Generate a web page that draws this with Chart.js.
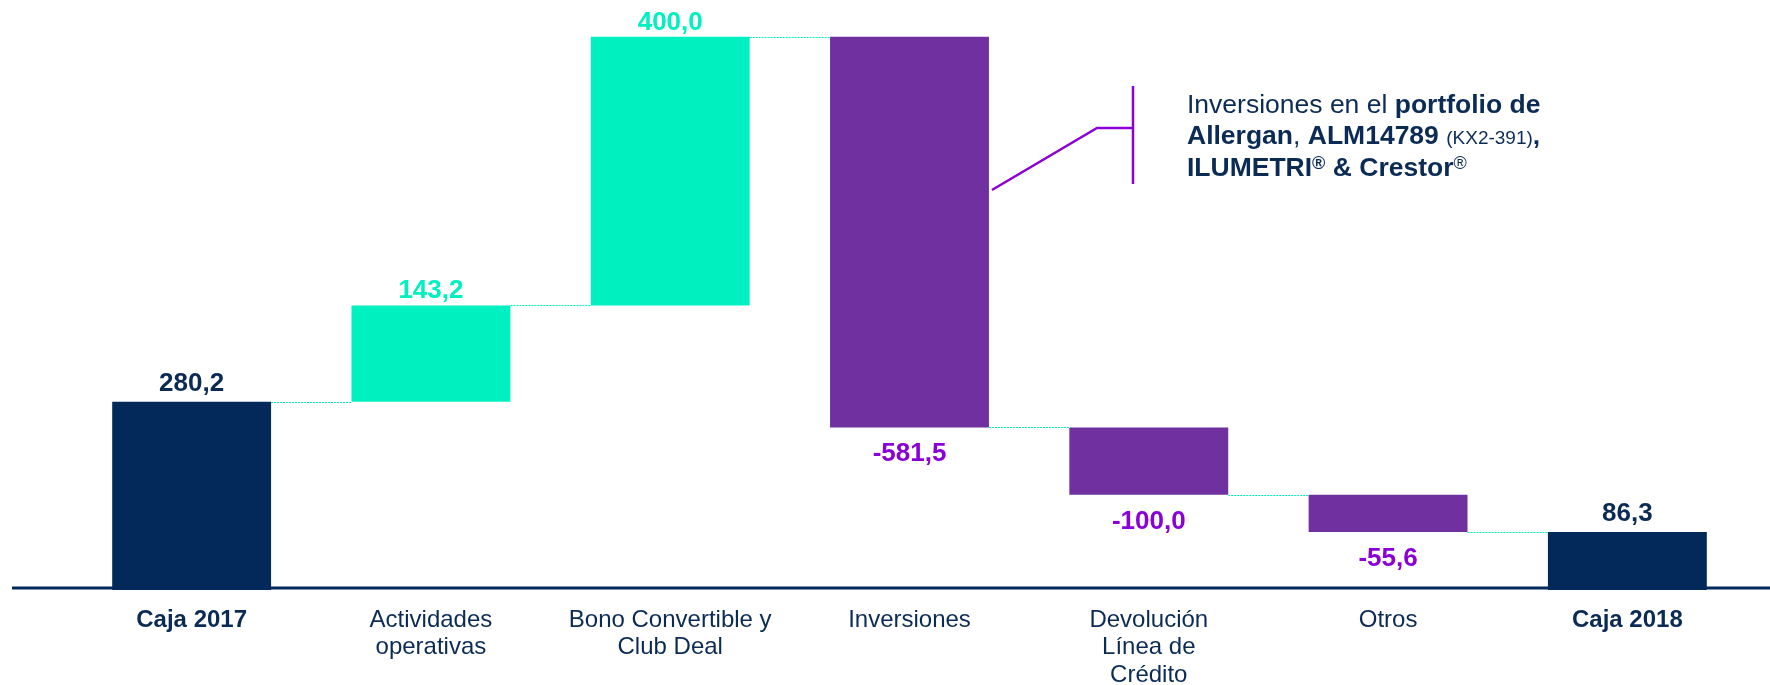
<!DOCTYPE html>
<html><head><meta charset="utf-8">
<script src="https://cdn.jsdelivr.net/npm/chart.js@4.4.0/dist/chart.umd.min.js"></script>
<style>html,body{margin:0;padding:0;background:#fff;}canvas{display:block}</style>
</head><body>
<canvas id="c" width="1770" height="685"></canvas>
<script>
const categories = ['Caja 2017', ['Actividades','operativas'], ['Bono Convertible y','Club Deal'], 'Inversiones', ['Devolución','Línea de','Crédito'], 'Otros', 'Caja 2018'];
const changes = [280.2, 143.2, 400.0, -581.5, -100.0, -55.6, 86.3];
const isTotal = [true, false, false, false, false, false, true];

const NAVY = '#02295A';
const NAVY_TEXT = '#0B2B55';
const TEAL = '#00F0C0';
const PURPLE = '#7030A0';
const VIOLET = '#8B00D6';
const FAMILY = '"Liberation Sans", Arial, sans-serif';

const ranges = [];
let run = 0;
changes.forEach((v, i) => {
  if (isTotal[i]) { ranges.push([0, v]); run = v; }
  else { ranges.push([run, run + v]); run += v; }
});
const colors = changes.map((v, i) => isTotal[i] ? NAVY : (v >= 0 ? TEAL : PURPLE));
const labelColors = changes.map((v, i) => isTotal[i] ? NAVY_TEXT : (v >= 0 ? TEAL : VIOLET));
const fmt = v => v.toFixed(1).replace('.', ',');

const baselinePlugin = {
  id: 'baseline',
  beforeDatasetsDraw(chart) {
    const ctx = chart.ctx, y = chart.scales.y.getPixelForValue(0) - 2;
    ctx.save();
    ctx.strokeStyle = NAVY; ctx.lineWidth = 3;
    ctx.beginPath(); ctx.moveTo(12, y); ctx.lineTo(chart.width, y); ctx.stroke();
    ctx.restore();
  }
};

const connectorPlugin = {
  id: 'connectors',
  afterDatasetsDraw(chart) {
    const ctx = chart.ctx, meta = chart.getDatasetMeta(0), ys = chart.scales.y;
    ctx.save();
    ctx.strokeStyle = TEAL; ctx.lineWidth = 1; ctx.setLineDash([2, 1]);
    for (let i = 0; i < meta.data.length - 1; i++) {
      const a = meta.data[i], b = meta.data[i + 1];
      const y = Math.round(ys.getPixelForValue(ranges[i][1])) + 0.5;
      ctx.beginPath();
      ctx.moveTo(a.x + a.width / 2, y);
      ctx.lineTo(b.x - b.width / 2, y);
      ctx.stroke();
    }
    ctx.restore();
  }
};

const valueLabelPlugin = {
  id: 'valueLabels',
  afterDatasetsDraw(chart) {
    const ctx = chart.ctx, meta = chart.getDatasetMeta(0);
    ctx.save();
    ctx.font = 'bold 26px ' + FAMILY;
    ctx.textAlign = 'center';
    ctx.textBaseline = 'alphabetic';
    meta.data.forEach((bar, i) => {
      const top = Math.min(bar.y, bar.base), bottom = Math.max(bar.y, bar.base);
      ctx.fillStyle = labelColors[i];
      if (changes[i] >= 0) ctx.fillText(fmt(changes[i]), bar.x, top - (isTotal[i] ? 11 : 7));
      else ctx.fillText(fmt(changes[i]), bar.x, bottom + 34);
    });
    ctx.restore();
  }
};

const annotationPlugin = {
  id: 'annotation',
  afterDraw(chart) {
    const ctx = chart.ctx, meta = chart.getDatasetMeta(0);
    const bar = meta.data[3];
    const sx = bar.x + bar.width / 2 + 3;
    ctx.save();
    ctx.strokeStyle = VIOLET; ctx.lineWidth = 2.5;
    ctx.beginPath();
    ctx.moveTo(sx, 190); ctx.lineTo(1097, 128); ctx.lineTo(1133, 128);
    ctx.stroke();
    ctx.beginPath(); ctx.moveTo(1133, 86); ctx.lineTo(1133, 184); ctx.stroke();

    const R = '26.5px ' + FAMILY, B = 'bold 26.5px ' + FAMILY;
    const S = '19px ' + FAMILY, SUPB = 'bold 18px ' + FAMILY, SUPR = '18px ' + FAMILY;
    const lines = [
      { y: 113, runs: [['Inversiones en el ', R], ['portfolio de', B]] },
      { y: 144, runs: [['Allergan', B], [', ', R], ['ALM14789', B], [' ', R], ['(KX2-391)', S], [',', B]] },
      { y: 176, runs: [['ILUMETRI', B], ['®', SUPB, 7], [' & Crestor', B], ['®', SUPR, 7]] }
    ];
    ctx.fillStyle = NAVY_TEXT;
    ctx.textAlign = 'left'; ctx.textBaseline = 'alphabetic';
    lines.forEach(line => {
      let x = 1187;
      line.runs.forEach(([t, f, up]) => {
        ctx.font = f;
        ctx.fillText(t, x, line.y - (up || 0));
        x += ctx.measureText(t).width;
      });
    });
    ctx.restore();
  }
};

new Chart(document.getElementById('c'), {
  type: 'bar',
  data: {
    labels: categories,
    datasets: [{
      data: ranges,
      backgroundColor: colors,
      borderWidth: 0,
      barPercentage: 0.664,
      categoryPercentage: 1.0
    }]
  },
  options: {
    responsive: false,
    animation: false,
    events: [],
    layout: { padding: { left: 72, right: 23, top: 0, bottom: 0 } },
    plugins: { legend: { display: false }, tooltip: { enabled: false } },
    scales: {
      x: {
        grid: { display: false, drawTicks: false },
        border: { display: false },
        ticks: {
          autoSkip: false, maxRotation: 0, minRotation: 0,
          padding: 16,
          color: NAVY_TEXT,
          font: (c) => ({ family: FAMILY, size: 24, lineHeight: 1.16, weight: (c.index === 0 || c.index === 6) ? 'bold' : 'normal' })
        },
        afterFit(scale) { scale.height = 95; }
      },
      y: { display: false, min: 0, max: 878 }
    }
  },
  plugins: [baselinePlugin, connectorPlugin, valueLabelPlugin, annotationPlugin]
});
</script>
</body></html>
